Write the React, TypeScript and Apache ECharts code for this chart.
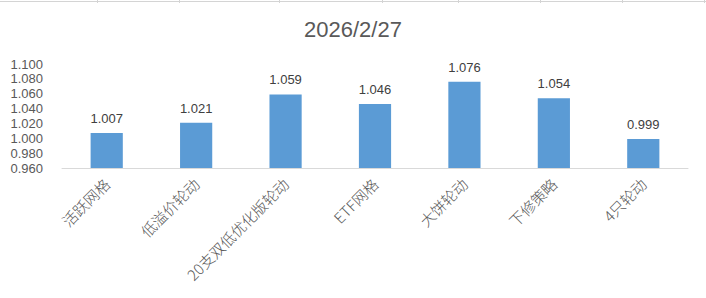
import React, { useEffect, useRef } from "react";
import * as echarts from "echarts";

const categories = ["活跃网格", "低溢价轮动", "20支双低优化版轮动", "ETF网格", "大饼轮动", "下修策略", "4只轮动"];
const values = [1.007, 1.021, 1.059, 1.046, 1.076, 1.054, 0.999];
const titleText = "2026/2/27";
const yMin = 0.96;
const yMax = 1.1;
const yStep = 0.02;
const columnBorders = [97, 179, 279, 382, 458, 540, 622, 704];

const FONT = "'Liberation Sans', 'Noto Sans CJK SC', sans-serif";

export default function App() {
  const ref = useRef<HTMLDivElement>(null);
  useEffect(() => {
    document.body.style.margin = "0";
    const chart = echarts.init(ref.current!, null, { renderer: "svg" });
    const graphics: any[] = [
      { type: "line", shape: { x1: 0, y1: 1.5, x2: 706, y2: 1.5 }, style: { stroke: "#D4D4D4", lineWidth: 1 } },
      ...columnBorders.map((x) => ({
        type: "line",
        shape: { x1: x + 0.5, y1: 0, x2: x + 0.5, y2: 3 },
        style: { stroke: "#D4D4D4", lineWidth: 1 },
      })),
    ];
    chart.setOption({
      animation: false,
      backgroundColor: "#ffffff",
      textStyle: { fontFamily: FONT },
      title: {
        text: titleText,
        left: "center",
        top: 13,
        textStyle: { fontSize: 22, fontWeight: "normal", color: "#595959", fontFamily: FONT },
      },
      graphic: graphics,
      grid: { left: 62, right: 18, top: 64, bottom: 130, containLabel: false },
      xAxis: {
        type: "category",
        data: categories,
        axisLine: { lineStyle: { color: "#D9D9D9", width: 1 } },
        axisTick: { show: false },
        axisLabel: {
          rotate: 45,
          interval: 0,
          margin: 13,
          fontSize: 15,
          fontWeight: 300,
          color: "#595959",
          fontFamily: "'Noto Sans CJK SC', 'Liberation Sans', sans-serif",
        },
      },
      yAxis: {
        type: "value",
        min: yMin,
        max: yMax,
        interval: yStep,
        axisLine: { show: false },
        axisTick: { show: false },
        splitLine: { show: false },
        axisLabel: {
          fontSize: 13,
          color: "#595959",
          margin: 19,
          fontFamily: FONT,
          formatter: (v: number) => v.toFixed(3),
        },
      },
      series: [
        {
          type: "bar",
          data: values,
          barWidth: "36%",
          itemStyle: { color: "#5B9BD5" },
          label: {
            show: true,
            position: "top",
            distance: 8,
            fontSize: 13,
            color: "#404040",
            fontFamily: FONT,
            formatter: (p: any) => Number(p.value).toFixed(3),
          },
        },
      ],
    });
    return () => chart.dispose();
  }, []);
  return <div ref={ref} style={{ width: 706, height: 298 }} />;
}
